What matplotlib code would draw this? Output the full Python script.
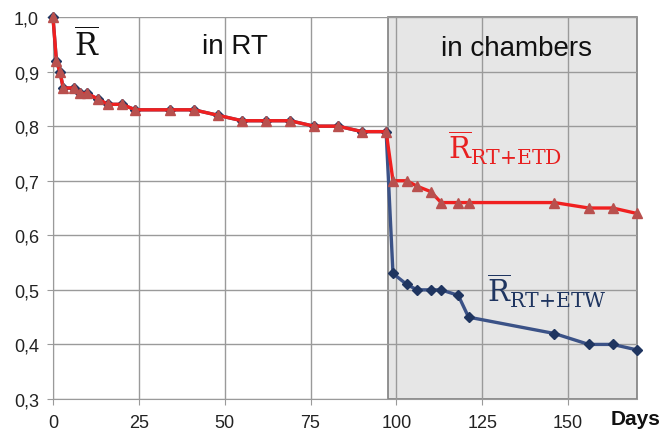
import numpy as np
import matplotlib.pyplot as plt
from matplotlib.ticker import FuncFormatter
from matplotlib.patches import Rectangle

# days of measurement
days = [0, 1, 2, 3, 6, 8, 10, 13, 16, 20, 24, 34, 41, 48, 55, 62, 69, 76, 83, 90, 97,
        99, 103, 106, 110, 113, 118, 121, 146, 156, 163, 170]

# reliability, storage in RT then climatic chambers
r_etd = [1.00, 0.92, 0.90, 0.87, 0.87, 0.86, 0.86, 0.85, 0.84, 0.84, 0.83, 0.83, 0.83,
         0.82, 0.81, 0.81, 0.81, 0.80, 0.80, 0.79, 0.79,
         0.70, 0.70, 0.69, 0.68, 0.66, 0.66, 0.66, 0.66, 0.65, 0.65, 0.64]
r_etw = [1.00, 0.92, 0.90, 0.87, 0.87, 0.86, 0.86, 0.85, 0.84, 0.84, 0.83, 0.83, 0.83,
         0.82, 0.81, 0.81, 0.81, 0.80, 0.80, 0.79, 0.79,
         0.53, 0.51, 0.50, 0.50, 0.50, 0.49, 0.45, 0.42, 0.40, 0.40, 0.39]

chamber_start = 97.5
x_ticks = [0, 25, 50, 75, 100, 125, 150]
y_ticks = [0.3, 0.4, 0.5, 0.6, 0.7, 0.8, 0.9, 1.0]

plt.rcParams['font.family'] = ['Liberation Sans', 'DejaVu Sans']

fig = plt.figure(figsize=(6.62, 4.35), dpi=100)
ax = fig.add_axes([0.080, 0.0805, 0.882, 0.878])
ax.set_xlim(0, 170)
ax.set_ylim(0.3, 1.0)

# chamber period
ax.add_patch(Rectangle((chamber_start, 0.3), 170 - chamber_start, 0.7,
                       facecolor='#e6e6e6', edgecolor='#7f7f7f', lw=1.2,
                       zorder=0.2, clip_on=False))

ax.set_axisbelow(True)
ax.grid(True, color='#9a9a9a', lw=1.0)
ax.set_xticks(x_ticks)
ax.set_yticks(y_ticks)
ax.yaxis.set_major_formatter(FuncFormatter(lambda v, p: f'{v:.1f}'.replace('.', ',')))
ax.tick_params(labelsize=13, colors='#222222', length=4, color='#9a9a9a')
ax.tick_params(axis='y', pad=6)
ax.tick_params(axis='x', pad=7)
for s in ['top', 'right']:
    ax.spines[s].set_visible(False)
for s in ['left', 'bottom']:
    ax.spines[s].set_color('#9a9a9a')

ax.plot(days, r_etw, color='#3b5287', lw=2.4, marker='D', ms=5.5,
        mfc='#1f3560', mec='#1f3560', zorder=3, clip_on=False)
ax.plot(days, r_etd, color='#f02020', lw=2.4, marker='^', ms=7.5,
        mfc='#b9504e', mec='#b9504e', zorder=4, clip_on=False)

ax.text(6, 0.93, r'$\overline{\mathrm{R}}$', fontsize=22, math_fontfamily='dejavuserif',
        color='#111111')
ax.text(53, 0.935, 'in RT', fontsize=20, ha='center', color='#111111')
ax.text(135, 0.93, 'in chambers', fontsize=20, ha='center', color='#111111')
ax.text(115, 0.74, r'$\overline{\mathrm{R}}_{\mathrm{RT{+}ETD}}$', fontsize=21,
        math_fontfamily='dejavuserif', color='#e82020')
ax.text(126.5, 0.478, r'$\overline{\mathrm{R}}_{\mathrm{RT{+}ETW}}$', fontsize=21,
        math_fontfamily='dejavuserif', color='#1f3560')
fig.text(0.997, 0.022, 'Days', fontsize=15, fontweight='bold', ha='right', color='#111111')

fig.savefig('out.png', dpi=100)
